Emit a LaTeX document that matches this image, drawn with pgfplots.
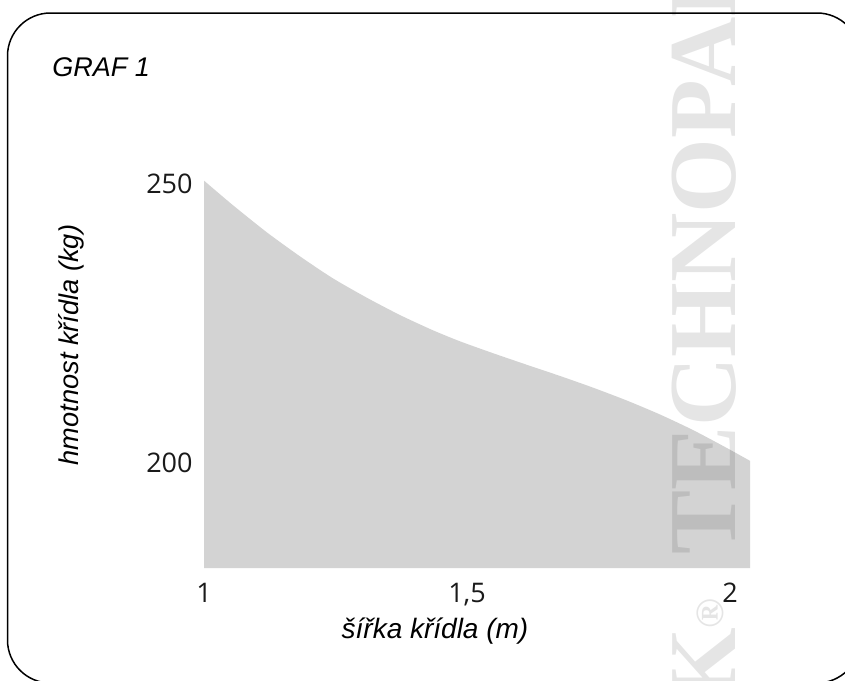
\documentclass[border=0pt]{standalone}
\usepackage{pgfplots}
\pgfplotsset{compat=1.18}
\usepackage{fontspec}
\setmainfont{Liberation Sans}
\newfontfamily\tickfont{Open Sans}
\newfontfamily\wmfont{Liberation Serif}
\definecolor{areagray}{HTML}{D3D3D3}
\definecolor{ink}{HTML}{1A1A1A}

\begin{document}
\begin{tikzpicture}[x=0.5pt,y=-0.5pt]
% page in pixel units of the reference, y downwards
\useasboundingbox (0,0) rectangle (845,680);
\draw[line width=0.75pt, rounded corners=21.5pt] (7.5,13) rectangle (860,683);

\begin{axis}[
  at={(102pt,-284pt)}, anchor=south west,
  scale only axis, width=273pt, height=194.8pt,
  xmin=1, xmax=2.038, ymin=181.2, ymax=251,
  axis line style={draw=none}, tick style={draw=none},
  xtick={1,1.5,2}, xticklabels={1,{1,5},2},
  ytick={200,250}, yticklabels={200,250},
  tick label style={font=\tickfont\fontsize{13.5pt}{16pt}\selectfont, text=ink, inner sep=0pt},
  xticklabel style={anchor=north, yshift=-7.5pt},
  yticklabel style={anchor=east, xshift=-5.5pt},
]
\addplot[fill=areagray, draw=none, smooth, tension=0.4] coordinates {
  (1.000,250.6) (1.055,246.2) (1.120,241.3) (1.183,237.0) (1.245,233.1)
  (1.310,229.6) (1.373,226.5) (1.435,223.8) (1.487,221.8) (1.549,219.7)
  (1.614,217.6) (1.677,215.6) (1.740,213.5) (1.804,211.2) (1.867,208.7)
  (1.930,205.9) (1.994,202.7) (2.038,200.4)
} \closedcycle;
\end{axis}

% watermark
\node[rotate=90, anchor=base west, inner sep=0pt, text=black, text opacity=0.1,
      font=\wmfont\bfseries\fontsize{48pt}{48pt}\selectfont] at (735,555) {TECHNOPARK};
\node[rotate=90, anchor=base east, inner sep=0pt, text=black, text opacity=0.1,
      font=\wmfont\bfseries\fontsize{48pt}{48pt}\selectfont] at (735,598)
      {TECHNOPARK\raisebox{6pt}{\fontsize{20pt}{20pt}\selectfont ®}};

\node[anchor=base west, inner sep=0pt, font=\itshape\fontsize{13.5pt}{16pt}\selectfont] at (52,76) {GRAF 1};
\node[anchor=base, rotate=90, inner sep=0pt, font=\itshape\fontsize{13.6pt}{16pt}\selectfont] at (78,345) {hmotnost křídla (kg)};
\node[anchor=base, inner sep=0pt, font=\itshape\fontsize{14pt}{17pt}\selectfont] at (435,638) {šířka křídla (m)};
\end{tikzpicture}
\end{document}
